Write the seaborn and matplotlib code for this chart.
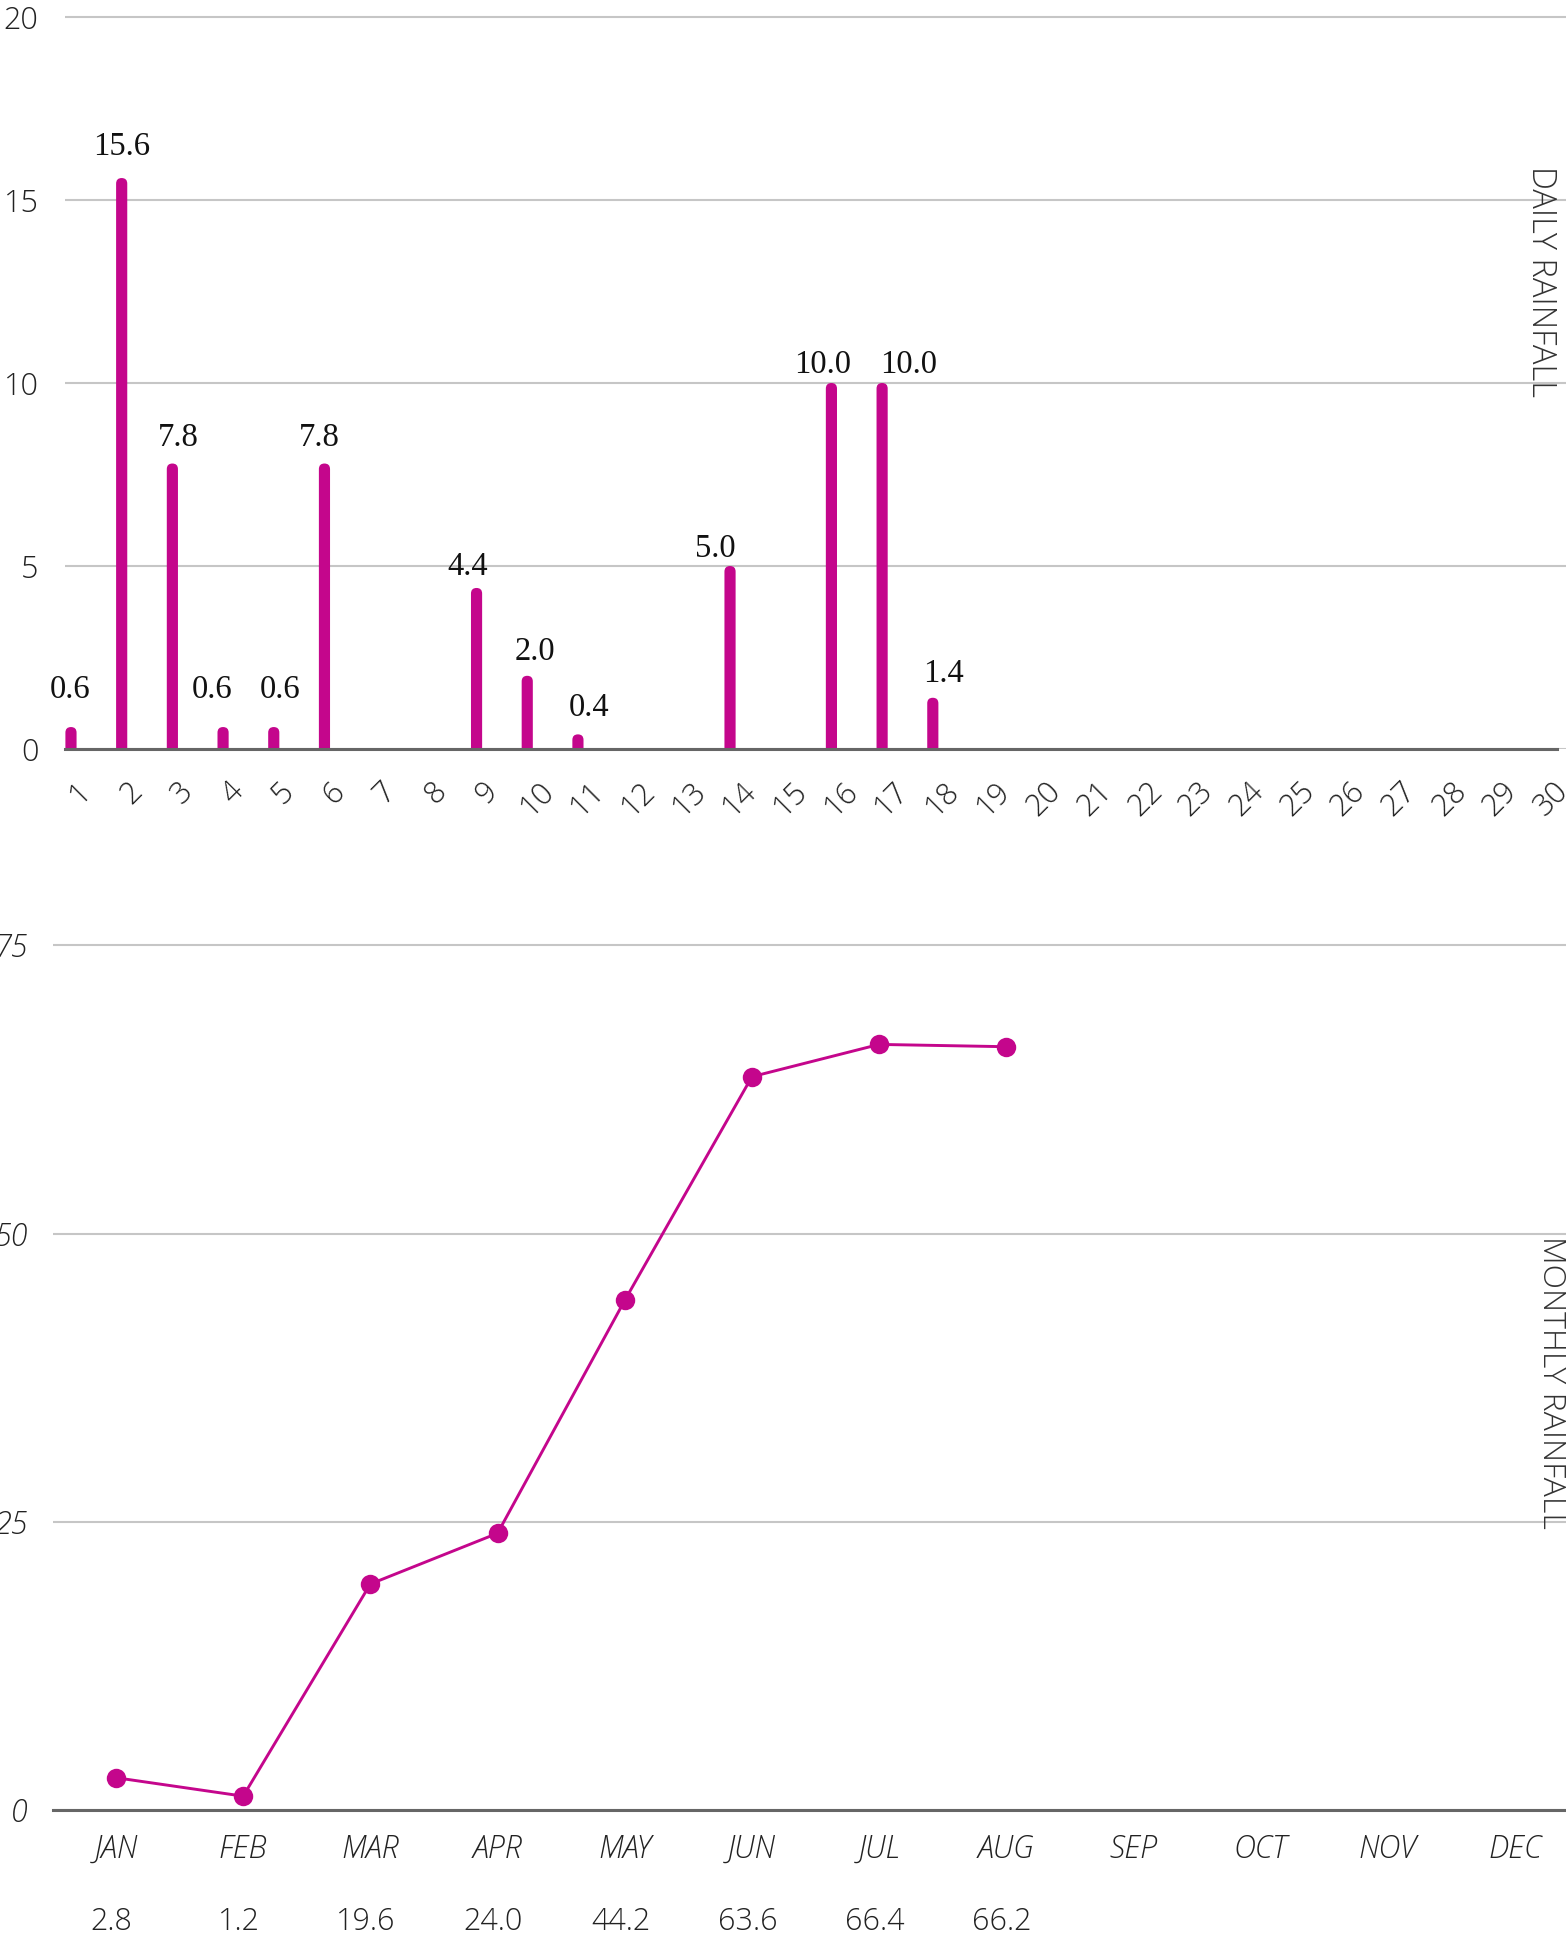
import matplotlib
matplotlib.use("Agg")
import matplotlib.pyplot as plt
from matplotlib import font_manager as fm
from matplotlib.transforms import ScaledTranslation
from matplotlib.patches import FancyBboxPatch
import numpy as np
import pandas as pd
import seaborn as sns

# ---------------- data ----------------
days = [str(d) for d in range(1, 31)]
daily_rain = [0.6, 15.6, 7.8, 0.6, 0.6, 7.8, 0, 0, 4.4, 2.0,
              0.4, 0, 0, 5.0, 0, 10.0, 10.0, 1.4, 0, 0,
              0, 0, 0, 0, 0, 0, 0, 0, 0, 0]
daily_ticks = [0, 5, 10, 15, 20]

months = ["JAN", "FEB", "MAR", "APR", "MAY", "JUN",
          "JUL", "AUG", "SEP", "OCT", "NOV", "DEC"]
monthly_rain = [2.8, 1.2, 19.6, 24.0, 44.2, 63.6, 66.4, 66.2]
monthly_ticks = [0, 25, 50, 75]

# label placement tweaks (pixels): horizontal shift and gap above bar top, per day
label_dx = {1: -1, 2: 0, 3: 6, 4: -11, 5: 6, 6: -5, 9: -9, 10: 8, 11: 11,
            14: -15, 16: -9, 17: 27, 18: 11}
label_gap = {1: 29, 2: 23, 3: 18, 4: 29, 5: 29, 6: 18, 9: 13, 10: 16, 11: 18,
             14: 9, 16: 10, 17: 10, 18: 16}

# ---------------- style ----------------
sns.set_theme(style="white")


def pick_light():
    for fam in ["Open Sans", "Lato", "Roboto", "Noto Sans"]:
        for f in fm.fontManager.ttflist:
            w = f.weight
            if f.name == fam and ((isinstance(w, int) and w <= 300) or w in ("light", "extra light", "ultralight")):
                return fam
    return "Open Sans"


LIGHT = pick_light()
plt.rcParams["font.family"] = [LIGHT, "DejaVu Sans"]
SERIF = ["Liberation Serif", "DejaVu Serif"]

MAGENTA = "#C4068C"
GRID = "#C6C6C6"
BASE = "#666666"
TXT = "#222222"
PX2PT = 0.72

W, H = 1566, 1954
fig = plt.figure(figsize=(W / 100, H / 100), dpi=100)

# ---------------- daily bars ----------------
ax1 = fig.add_axes([65 / W, (H - 749) / H, (W - 65) / W, (749 - 5) / H])
df_daily = pd.DataFrame({"day": days, "rain": daily_rain})
sns.barplot(data=df_daily, x="day", y="rain", color=MAGENTA, width=0.22,
            saturation=1, ax=ax1, zorder=3)
ax1.set_ylim(0, 744 / 36.6)
ax1.set_xlim(-0.118, 29.49)

# round the bar tops (bottom rounding is clipped below the axis)
fig.canvas.draw()
p0 = ax1.transData.transform((0, 0))
sx = ax1.transData.transform((1, 0))[0] - p0[0]
sy = ax1.transData.transform((0, 1))[1] - p0[1]
aspect = sx / sy
for p in list(ax1.patches):
    x, w, h = p.get_x(), p.get_width(), p.get_height()
    p.remove()
    if not np.isfinite(h) or h <= 0:
        continue
    r = w / 2
    ext = r * aspect
    fb = FancyBboxPatch((x, -ext), w, h + ext,
                        boxstyle=f"round,pad=0,rounding_size={r}",
                        mutation_aspect=aspect, facecolor=MAGENTA,
                        edgecolor="none", zorder=3)
    ax1.add_patch(fb)

ax1.set_yticks(daily_ticks)
ax1.set_yticklabels([str(t) for t in daily_ticks], fontsize=22,
                    fontweight="light", color=TXT)
ax1.yaxis.grid(True, color=GRID, linewidth=1.5)
ax1.xaxis.grid(False)
ax1.set_axisbelow(True)
for s in ["top", "right", "left"]:
    ax1.spines[s].set_visible(False)
ax1.spines["bottom"].set_color(BASE)
ax1.spines["bottom"].set_linewidth(2.2)
ax1.spines["bottom"].set_zorder(4)
ax1.spines["bottom"].set_bounds(-0.118, 29.31)
ax1.set_xlabel("")
ax1.set_ylabel("")
ax1.tick_params(axis="y", length=0, pad=19)
ax1.tick_params(axis="x", length=0, pad=19)
for t in ax1.get_xticklabels():
    t.set_rotation(45)
    t.set_ha("center")
    t.set_va("top")
    t.set_fontsize(22)
    t.set_fontweight("light")
    t.set_color(TXT)
    t.set_transform(t.get_transform() + ScaledTranslation(0.10, 0, fig.dpi_scale_trans))

for i, v in enumerate(daily_rain):
    if v > 0:
        d = i + 1
        ax1.annotate(f"{v:.1f}", xy=(i, v),
                     xytext=(label_dx.get(d, 0) * PX2PT, label_gap.get(d, 20) * PX2PT),
                     textcoords="offset points", ha="center", va="baseline",
                     fontsize=23.5, family=SERIF, color="#111111", zorder=5)

fig.text(1541 / W, 1 - 166 / H, "DAILY RAINFALL", rotation=270, ha="center", va="top",
         fontsize=23.5, fontweight="light", color="#333333")

# ---------------- monthly line ----------------
ax2 = fig.add_axes([53 / W, (H - 1810) / H, (W - 53) / W, (1810 - 934) / H])
df_month = pd.DataFrame({"idx": np.arange(len(monthly_rain)), "rain": monthly_rain})
sns.lineplot(data=df_month, x="idx", y="rain", color=MAGENTA, linewidth=2.1,
             marker="o", markersize=14, markeredgewidth=0, ax=ax2, zorder=3)
ax2.set_ylim(0, 876 / 11.53)
ax2.set_xlim(-0.495, 11.40)
ax2.set_yticks(monthly_ticks)
ax2.set_yticklabels([str(t) for t in monthly_ticks], fontsize=22, fontweight="light",
                    fontstyle="italic", color=TXT)
ax2.set_xticks(range(len(months)))
ax2.set_xticklabels(months, fontsize=22, fontweight="light", fontstyle="italic", color=TXT)
ax2.yaxis.grid(True, color=GRID, linewidth=1.5)
ax2.xaxis.grid(False)
ax2.set_axisbelow(True)
for s in ["top", "right", "left"]:
    ax2.spines[s].set_visible(False)
ax2.spines["bottom"].set_color(BASE)
ax2.spines["bottom"].set_linewidth(2.2)
ax2.set_xlabel("")
ax2.set_ylabel("")
ax2.tick_params(axis="y", length=0, pad=18)
ax2.tick_params(axis="x", length=0, pad=17)

for i, v in enumerate(monthly_rain):
    ax2.annotate(f"{v:.1f}", xy=(i, 0), xytext=(-3, -81), textcoords="offset points",
                 ha="center", va="center", fontsize=22, fontweight="light", color=TXT,
                 annotation_clip=False)

fig.text(1551 / W, 1 - 1236 / H, "MONTHLY RAINFALL", rotation=270, ha="center", va="top",
         fontsize=23, fontweight="light", color="#333333")

fig.savefig("out.png", dpi=100)
